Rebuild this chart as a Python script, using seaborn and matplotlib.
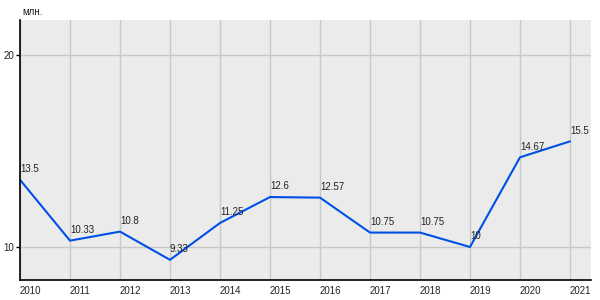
import matplotlib
matplotlib.use("Agg")
import matplotlib.pyplot as plt
import seaborn as sns
import pandas as pd

years = [2010, 2011, 2012, 2013, 2014, 2015, 2016, 2017, 2018, 2019, 2020, 2021]
values = [13.5, 10.33, 10.8, 9.33, 11.25, 12.6, 12.57, 10.75, 10.75, 10.0, 14.67, 15.5]
labels = ["13.5", "10.33", "10.8", "9.33", "11.25", "12.6", "12.57", "10.75", "10.75", "10", "14.67", "15.5"]
yticks = [10, 20]
unit = "млн."

df = pd.DataFrame({"year": years, "value": values})

sns.set_style("white")
plt.rcParams['font.family'] = ['Liberation Sans', 'DejaVu Sans']

fig = plt.figure(figsize=(6, 3), dpi=100)
ax = fig.add_axes([20/600, 20/300, 571/600, 260/300])
ax.set_facecolor("#ebebeb")

sns.lineplot(data=df, x="year", y="value", ax=ax, color="#0050e6", linewidth=1.5)

for x, y, t in zip(years, values, labels):
    ax.annotate(t, (x, y), xytext=(0, 4), textcoords="offset points",
                ha="left", va="bottom", fontsize=7, color="#222222")

ax.set_xlim(2010, 2021.42)
ax.set_ylim(8.28, 21.82)
ax.set_xticks(years)
ax.set_xticklabels([str(y) for y in years], ha="left")
ax.set_yticks(yticks)
ax.set_yticklabels([str(v) for v in yticks], va="center_baseline")
ax.grid(True, color="#c8c8c8", linewidth=1)
ax.set_axisbelow(True)
ax.set_xlabel("")
ax.set_ylabel("")

for s in ["top", "right"]:
    ax.spines[s].set_visible(False)
for s in ["left", "bottom"]:
    ax.spines[s].set_color("black")
    ax.spines[s].set_linewidth(1.2)

ax.tick_params(axis="x", bottom=False, length=0, labelsize=7, pad=4, colors="black")
ax.tick_params(axis="y", left=True, length=3, width=1, labelsize=7, pad=1, colors="black")
for lbl in ax.get_xticklabels() + ax.get_yticklabels():
    lbl.set_color("#222222")

fig.text(22/600, 1 - 12/300, unit, fontsize=7, ha="left", va="center", color="#222222")

fig.savefig("out.png", dpi=100)
